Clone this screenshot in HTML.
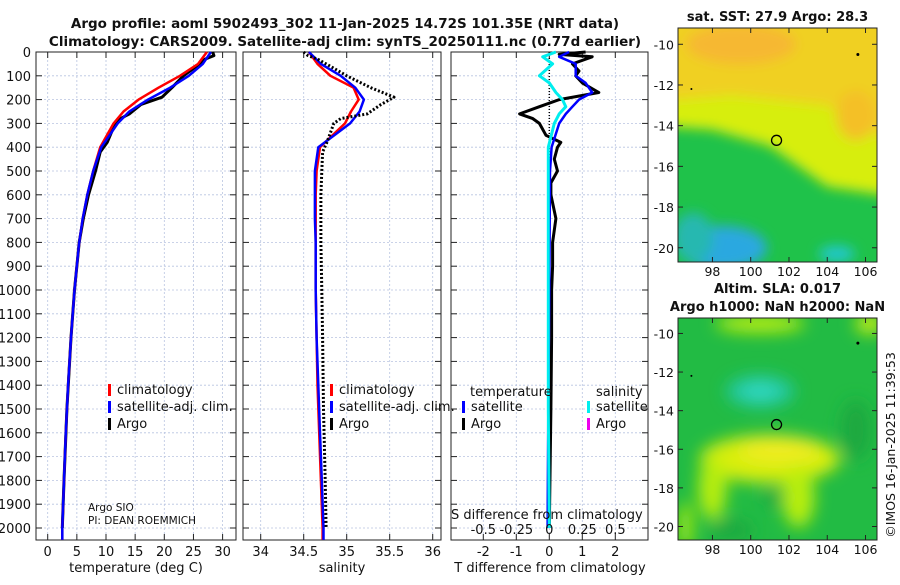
<!DOCTYPE html>
<html><head><meta charset="utf-8"><style>
body{margin:0;background:#fff;}
svg text{font-family:"DejaVu Sans","Liberation Sans",sans-serif;fill:#111;}
</style></head><body>
<svg id="c" width="900" height="580" xmlns="http://www.w3.org/2000/svg">
<text x="345" y="28" font-size="13.5" font-weight="bold" text-anchor="middle">Argo profile: aoml 5902493_302 11-Jan-2025 14.72S 101.35E (NRT data)</text>
<text x="345" y="46" font-size="13.5" font-weight="bold" text-anchor="middle">Climatology: CARS2009. Satellite-adj clim: synTS_20250111.nc (0.77d earlier)</text>
<g id="maps"></g>
<text transform="translate(895,445) rotate(-90)" font-size="12.5" text-anchor="middle">©IMOS 16-Jan-2025 11:39:53</text>
</svg>
<script>
// ---- data ----
const depthTicks=[0,100,200,300,400,500,600,700,800,900,1000,1100,1200,1300,1400,1500,1600,1700,1800,1900,2000];
const tTicks=[0,5,10,15,20,25,30];
const sTicks=[34,34.5,35,35.5,36];
const dTicks=[-2,-1,0,1,2];
const dTickLabels=["-2","-1","0","1","2"];
const sDiffLabels=["-0.5","-0.25","0","0.25","0.5"];

const tClimDepth=[0,50,100,150,200,250,300,400,500,600,700,800,900,1000,1200,1400,1600,1800,2000,2050];
const tClim=[27.3,25.8,22.7,19.0,15.6,13.0,11.3,9.0,7.8,6.8,6.0,5.4,5.0,4.6,4.0,3.5,3.1,2.8,2.5,2.5];
const tSat=[28.0,26.6,24.2,21.0,17.2,14.0,12.0,9.2,7.8,6.8,6.0,5.4,5.0,4.6,4.0,3.5,3.1,2.8,2.5,2.5];
const tArgoDepth=[0,15,30,60,100,150,190,220,260,280,300,340,380,420,500,600,700,800,1000,1200,1500,1800,2000];
const tArgo=[28.3,28.5,27.0,25.5,23.3,21.3,19.6,16.0,14.0,12.5,11.6,10.9,10.2,9.0,8.2,7.0,6.1,5.4,4.6,4.0,3.3,2.8,2.5];

const sClim=[34.56,34.66,34.81,35.08,35.14,35.05,34.98,34.69,34.65,34.64,34.64,34.64,34.64,34.64,34.65,34.66,34.68,34.70,34.72,34.72];
const sSat=[34.56,34.70,34.93,35.10,35.20,35.15,35.04,34.67,34.63,34.63,34.63,34.64,34.64,34.64,34.65,34.67,34.69,34.71,34.73,34.73];
const sArgo=[34.50,34.55,34.66,34.81,35.00,35.28,35.55,35.40,35.24,34.93,34.85,34.81,34.77,34.72,34.71,34.70,34.70,34.70,34.71,34.72,34.73,34.75,34.76];

const dArgoDepth=[0,10,20,50,80,100,130,170,200,230,260,280,300,350,380,400,450,500,550,600,700,800,900,1000,1200,1500,2000];
const dArgoT=[1.1,0.3,1.3,0.7,0.9,0.8,1.0,1.5,0.3,-0.3,-0.9,-0.5,-0.3,-0.1,0.35,0.25,0.15,0.25,0.05,0.05,0.2,0.1,0.1,0.07,0.07,0.05,0.0];
const dDepth=[0,20,50,100,130,170,200,230,260,300,400,500,1000,1500,2000];
const dSatT=[0.6,0.3,0.8,0.8,1.1,1.3,0.9,0.7,0.5,0.3,0.07,0.02,0.0,-0.03,-0.05];
const dSatS=[0.2,-0.2,0.1,-0.3,0.0,0.2,0.4,0.5,0.3,0.15,-0.03,-0.03,-0.03,-0.03,0.0];

// ---- axes ----
const Y0=52,YPX=0.238,YB=540;
const y=d=>Y0+d*YPX;
const P=[
 {l:36,r:236,x:v=>47.7+v*5.83},
 {l:243,r:441,x:v=>260.7+(v-34)*86},
 {l:451,r:648,x:v=>549.3+v*33}
];
const svg=document.getElementById('c');
const NS='http://www.w3.org/2000/svg';
function el(t,a,p){const e=document.createElementNS(NS,t);for(const k in a)e.setAttribute(k,a[k]);(p||svg).appendChild(e);return e;}
function txt(s,a,p){const e=el('text',a,p);e.textContent=s;return e;}

P.forEach((p,i)=>{
 const g=el('g',{});
 
 
 const ticks=i==0?tTicks:i==1?sTicks:dTicks;
 depthTicks.forEach(d=>{
  const ln=el('line',{x1:p.l,x2:p.r,y1:y(d),y2:y(d),stroke:'#b8c4e0','stroke-width':0.8,'stroke-dasharray':'2,2'},g);
  
  
  el('line',{x1:p.l,x2:p.l+6,y1:y(d),y2:y(d),stroke:'#222'},g);
  el('line',{x1:p.r-6,x2:p.r,y1:y(d),y2:y(d),stroke:'#222'},g);
  if(i==0){const t=txt(String(d),{x:31,y:y(d)+5,'font-size':13,'text-anchor':'end'},g);
   
   }
 });
 ticks.forEach((v,k)=>{
  const X=p.x(v);
  const ln=el('line',{x1:X,x2:X,y1:Y0,y2:YB,stroke:'#b8c4e0','stroke-width':0.8,'stroke-dasharray':'2,2'},g);
  
  
  el('line',{x1:X,x2:X,y1:Y0,y2:Y0+6,stroke:'#222'},g);
  el('line',{x1:X,x2:X,y1:YB-6,y2:YB,stroke:'#222'},g);
  const lab=i==2?dTickLabels[k]:String(v);
  const t=txt(lab,{x:X,y:556,'font-size':13,'text-anchor':'middle'},g);
  
  
 });
 const fr=el('rect',{x:p.l,y:Y0,width:p.r-p.l,height:YB-Y0,fill:'none',stroke:'#222','stroke-width':1},g);
 
 
});
function line(p,vals,depths,color,w,dash,name){
 const pts=vals.map((v,k)=>p.x(v).toFixed(1)+','+y(depths[k]).toFixed(1)).join(' ');
 const e=el('polyline',{points:pts,fill:'none',stroke:color,'stroke-width':w,'stroke-linejoin':'round'});
 if(dash)e.setAttribute('stroke-dasharray',dash);
 
 
}
line(P[0],tArgo,tArgoDepth,'#000',3,null,'temp-argo-line');
line(P[0],tClim,tClimDepth,'#f00',2.5,null,'temp-climatology-line');
line(P[0],tSat,tClimDepth,'#00f',2.5,null,'temp-satellite-line');
line(P[1],sClim,tClimDepth,'#f00',2.5,null,'sal-climatology-line');
line(P[1],sSat,tClimDepth,'#00f',2.5,null,'sal-satellite-line');
line(P[1],sArgo,tArgoDepth,'#000',3,'2,2','sal-argo-line');
{const e=el('line',{x1:P[2].x(0),x2:P[2].x(0),y1:Y0,y2:y(600),stroke:'#000','stroke-width':1.5,'stroke-dasharray':'1,2'});
 
 }
line(P[2],dArgoT,dArgoDepth,'#000',3,null,'tdiff-argo-line');
line(P[2],dSatT,dDepth,'#00f',2.5,null,'tdiff-satellite-line');
line(P[2],dSatS,dDepth,'#0ee',3,null,'sdiff-satellite-line');

// x titles
[['temperature (deg C)',136],['salinity',342],['T difference from climatology',550]].forEach((a,i)=>{
 const t=txt(a[0],{x:a[1],y:572,'font-size':13,'text-anchor':'middle'});
 
 
});
// S diff scale
{const t=txt('S difference from climatology',{x:451,y:519,'font-size':13});
 
 }
dTicks.forEach((v,k)=>{const t=txt(sDiffLabels[k],{x:P[2].x(v),y:534,'font-size':13,'text-anchor':'middle'});
 
 });
// PI text
{const t=txt('Argo SIO',{x:88,y:511,'font-size':10.5});
 const u=txt('PI: DEAN ROEMMICH',{x:88,y:524,'font-size':10.5});}
// legends
function leg(x,yy,c,label,name){
 const g=el('g',{});
 
 
 el('rect',{x:x,y:yy-9,width:3,height:12,fill:c},g);
 txt(label,{x:x+9,y:yy+1,'font-size':13},g);
}
leg(108,393,'#f00','climatology','legend-climatology');
leg(108,410,'#00f','satellite-adj. clim.','legend-satellite-adj');
leg(108,427,'#000','Argo','legend-argo');
leg(330,393,'#f00','climatology','legend-climatology-2');
leg(330,410,'#00f','satellite-adj. clim.','legend-satellite-adj-2');
leg(330,427,'#000','Argo','legend-argo-2');
{const t=txt('temperature',{x:470,y:396,'font-size':13});
 const u=txt('salinity',{x:596,y:396,'font-size':13});}
leg(462,410,'#00f','satellite','legend-t-satellite');
leg(462,427,'#000','Argo','legend-t-argo');
leg(587,410,'#0ee','satellite','legend-s-satellite');
leg(587,427,'#e0e','Argo','legend-s-argo');

// ---- maps ----
const mapLon=[98,100,102,104,106];
const mapLat=[-10,-12,-14,-16,-18,-20];
const M=[{t:28,b:262,titles:['sat. SST: 27.9 Argo: 28.3'],ty:[21]},{t:318,b:540,titles:['Altim. SLA: 0.017','Argo h1000: NaN h2000: NaN'],ty:[293,311]}];
const ML=678,MR=877;
const mx=v=>ML+(v-96.2)*(MR-ML)/(106.6-96.2);
M.forEach((m,i)=>{
 const my=v=>m.t+(-9.2-v)*(m.b-m.t)/(-9.2+20.7);
 const g=el('g',{});
 
 
 const defs=el('defs',{},g);
 const cp=el('clipPath',{id:'cp'+i},defs);
 el('rect',{x:ML,y:m.t,width:MR-ML,height:m.b-m.t},cp);
 const f=el('filter',{id:'bl'+i,x:'-50%',y:'-50%',width:'200%',height:'200%'},defs);
 el('feGaussianBlur',{stdDeviation:i==0?6:8},f);
 const c=el('g',{'clip-path':'url(#cp'+i+')'},g);
 if(i==0){
  el('rect',{x:ML,y:m.t,width:MR-ML,height:m.b-m.t,fill:'#1fc24a'},c);
  const b=el('g',{filter:'url(#bl0)'},c);
  el('polygon',{points:`${ML-20},${m.t-20} ${MR+20},${m.t-20} ${MR+20},${my(-17.5)} ${mx(104)},${my(-17)} ${mx(101)},${my(-15)} ${mx(98)},${my(-14.2)} ${ML-20},${my(-14)}`,fill:'#d7ee10'},b);
  el('polygon',{points:`${ML-20},${m.t-20} ${MR+20},${m.t-20} ${MR+20},${my(-15)} ${mx(104)},${my(-13)} ${mx(99)},${my(-12.5)} ${ML-20},${my(-12.8)}`,fill:'#f0d020'},b);
  el('ellipse',{cx:mx(99.5),cy:my(-10),rx:55,ry:20,fill:'#f6b830'},b);
  el('ellipse',{cx:mx(105.5),cy:my(-13.5),rx:20,ry:25,fill:'#f4c028'},b);
  el('ellipse',{cx:mx(98.5),cy:my(-20),rx:45,ry:22,fill:'#2aa8e0'},b);
  el('ellipse',{cx:mx(104.5),cy:my(-20.3),rx:18,ry:8,fill:'#22c8d0'},b);
  el('ellipse',{cx:mx(97),cy:my(-19.5),rx:20,ry:25,fill:'#28b8b0'},b);
 }else{
  el('rect',{x:ML,y:m.t,width:MR-ML,height:m.b-m.t,fill:'#22bb44'},c);
  const b=el('g',{filter:'url(#bl1)'},c);
  el('ellipse',{cx:mx(101),cy:my(-16.5),rx:70,ry:24,fill:'#d8ee10'},b);
  el('ellipse',{cx:mx(101.5),cy:my(-16),rx:40,ry:12,fill:'#f0ec20'},b);
  el('ellipse',{cx:mx(98),cy:my(-18),rx:14,ry:32,fill:'#b8ee10'},b);
  el('ellipse',{cx:mx(102.5),cy:my(-18.5),rx:16,ry:30,fill:'#b8ee10'},b);
  el('ellipse',{cx:mx(100.5),cy:my(-9.5),rx:45,ry:9,fill:'#b8ee10'},b);
  el('ellipse',{cx:mx(106.2),cy:my(-9.5),rx:14,ry:10,fill:'#c8ee10'},b);
  el('ellipse',{cx:mx(96.6),cy:my(-20),rx:6,ry:25,fill:'#b8ee10'},b);
  el('ellipse',{cx:mx(100.5),cy:my(-13),rx:34,ry:16,fill:'#22c8a0'},b);
  el('ellipse',{cx:mx(100.5),cy:my(-13),rx:18,ry:8,fill:'#30d8c0'},b);
  el('ellipse',{cx:mx(99),cy:my(-20.2),rx:22,ry:10,fill:'#1aa840'},b);
  el('ellipse',{cx:mx(101.2),cy:my(-18.5),rx:10,ry:9,fill:'#1aa840'},b);
  el('ellipse',{cx:mx(105.5),cy:my(-15),rx:15,ry:30,fill:'#1aa840'},b);
 }
 el('circle',{cx:mx(101.35),cy:my(-14.72),r:5,fill:'none',stroke:'#000','stroke-width':1.3},g);
 el('circle',{cx:mx(105.6),cy:my(-10.5),r:1.5,fill:'#000'},g);
 el('circle',{cx:mx(96.9),cy:my(-12.2),r:1,fill:'#000'},g);
 el('rect',{x:ML,y:m.t,width:MR-ML,height:m.b-m.t,fill:'none',stroke:'#222'},g);
 mapLon.forEach(v=>{
  el('line',{x1:mx(v),x2:mx(v),y1:m.b,y2:m.b-5,stroke:'#222'},g);
  el('line',{x1:mx(v),x2:mx(v),y1:m.t,y2:m.t+5,stroke:'#222'},g);
  const t=txt(String(v),{x:mx(v),y:m.b+14,'font-size':12.5,'text-anchor':'middle'},g);
  
  
 });
 mapLat.forEach(v=>{
  el('line',{x1:ML,x2:ML+5,y1:my(v),y2:my(v),stroke:'#222'},g);
  el('line',{x1:MR,x2:MR-5,y1:my(v),y2:my(v),stroke:'#222'},g);
  const t=txt(String(v),{x:ML-4,y:my(v)+5,'font-size':12.5,'text-anchor':'end'},g);
  
  
 });
 m.titles.forEach((s,k)=>{
  const t=txt(s,{x:(ML+MR)/2,y:m.ty[k],'font-size':13,'font-weight':'bold','text-anchor':'middle'},g);
  
  
 });
});
</script>
</body></html>
